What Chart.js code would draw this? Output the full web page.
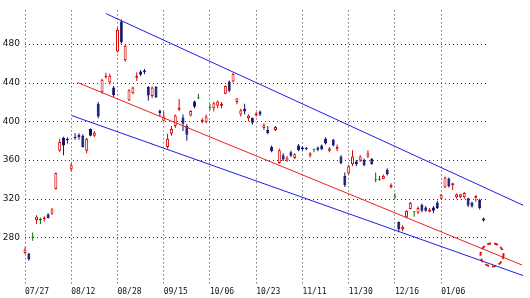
<!DOCTYPE html>
<html>
<head>
<meta charset="utf-8">
<script src="https://cdn.jsdelivr.net/npm/chart.js@4"></script>
<style>
  html, body { margin: 0; padding: 0; background: #fff; }
  #wrap { width: 530px; height: 298px; }
</style>
</head>
<body>
<div id="wrap"><canvas id="chart" width="530" height="298"></canvas></div>
<script>
// daily candles, one per trading day (index 0 = 07/27)
const opens  = [264, 263.5, 280, 298, 298, 298.5, 304, 304.5, 330, 369.5,
  383, 382, 350.5, 384, 386, 385, 369.5, 392, 385, 418,
  430, 445.5, 440, 435, 472, 503, 463, 421.5, 429, 445,
  451.5, 452.5, 435.5, 426, 435.5, 411, 400.5, 373.5, 387, 395,
  412, 404, 395, 406, 420.5, 423.5, 399.5, 399, 414, 413.5,
  416, 416, 428.5, 441, 441, 420, 407, 413, 403, 403.5,
  406, 410, 393, 391, 373.5, 391, 357, 365, 359.5, 368,
  362, 375, 373, 372.5, 364.5, 370, 373, 375, 382, 369.5,
  381, 371, 363.5, 343.5, 346, 355.5, 358.5, 359.5, 360, 363.5,
  361, 339.5, 339.5, 340.5, 350, 332, 322, 296, 288.5, 300.5,
  309.5, 306, 305.5, 313.5, 311, 306.5, 311, 316, 320, 331.5,
  341, 334, 321.5, 321.5, 321.5, 320.5, 316, 321, 319, 299.5];
const highs  = [270, 264, 285, 303, 300.5, 302, 305, 310.5, 347, 382,
  384, 383.5, 357, 387.5, 387.5, 386.5, 383, 392.5, 390, 420,
  444, 450, 449, 436.5, 496.5, 505, 479, 433, 436, 450.5,
  453, 454, 436.5, 436, 436.5, 412, 410, 387, 395, 407,
  423, 407, 397, 411.5, 421.5, 428.5, 403, 407, 418, 420,
  421.5, 420, 437, 442, 450, 424, 413, 418, 407, 404,
  409.5, 411, 398, 395, 375, 395, 372, 367, 364, 369.5,
  367, 376.5, 374, 373.5, 368, 372, 374, 376, 383.5, 373.5,
  382, 376, 365, 347, 355, 370, 360, 365, 361.5, 370,
  362, 347, 343.5, 345, 351.5, 336, 325.5, 296.5, 292.5, 308,
  316.5, 307, 312, 315, 312.5, 310.5, 312.5, 318, 325, 343,
  342, 336.5, 325.5, 325, 327, 321, 317, 323.5, 320, 300.5];
const lows   = [263, 256, 276.5, 294, 294, 296.5, 299.5, 303.5, 329.5, 368.5,
  365, 377, 348.5, 381, 381, 373, 367, 384.5, 383.5, 403,
  428.5, 444, 438, 425, 471, 480, 461.5, 421, 428, 441.5,
  446.5, 448.5, 421.5, 424, 424, 405, 400, 372, 385, 393,
  410.5, 390, 380, 405, 413.5, 423, 398, 398, 411.5, 410,
  413.5, 413.5, 428, 430, 440, 417.5, 405, 407, 400, 396.5,
  405, 405.5, 391, 386.5, 368, 390, 356, 359, 358, 363,
  361, 369, 369.5, 370, 362.5, 368, 369, 370, 376, 368,
  374, 369, 355.5, 332, 345, 353.5, 353.5, 358, 353.5, 362,
  355, 337, 338.5, 340, 344, 330.5, 319.5, 285.5, 286.5, 299.5,
  309, 301.5, 304, 306, 306.5, 306, 305, 309.5, 319.5, 331,
  331.5, 329, 320, 320.5, 320, 311.5, 311, 317, 309, 296.5];
const closes = [267.5, 257.5, 280, 301.5, 298, 300.5, 300, 309, 346.5, 378.5,
  375, 380.5, 354.5, 382.5, 383.5, 373.5, 382, 385, 388.5, 405,
  443, 447, 447, 427, 494.5, 481.5, 478, 432, 435, 447,
  448, 450.5, 426.5, 435, 425, 408.5, 405, 382, 392, 406,
  414, 397.5, 386, 410.5, 415, 423.5, 401.5, 405, 414, 418.5,
  420.5, 418, 436.5, 431.5, 449, 423.5, 411.5, 410, 406, 398.5,
  408, 407, 396, 388, 369, 394, 370, 360.5, 362.5, 364.5,
  366, 370, 371, 371, 367, 370, 370.5, 371, 377, 372,
  375, 373.5, 357, 334, 353.5, 363.5, 355.5, 363.5, 354.5, 367,
  355.5, 339.5, 339.5, 343.5, 345.5, 334.5, 322, 288.5, 291, 307.5,
  315.5, 306, 310.5, 307.5, 307.5, 309, 307.5, 310.5, 324, 342,
  333, 336, 324.5, 324.5, 326, 313, 312, 323, 310.5, 297.5];

// x axis labels sit on every 12th trading day
const xTickIdx = [0, 12, 24, 36, 48, 60, 72, 84, 96, 108];
const xLabels = ['07/27', '08/12', '08/28', '09/15', '10/06', '10/23', '11/11', '11/30', '12/16', '01/06'];
const yTicks = [280, 320, 360, 400, 440, 480];

// trend channel, [index, price] at both ends
const upperLine = [[21.0, 511.2], [129.3, 313.2]];
const midLine = [[13.7, 439.9], [129.0, 251.5]];
const lowerLine = [[12.2, 405.8], [129.3, 240.6]];
const ringMark = { x: 121.2, y: 262 };

const RED = '#d80000';
const NAVY = '#12126e';
const GREEN = '#0a6a0a';

function candleColor(i) {
    if (closes[i] > opens[i]) return RED;
    if (closes[i] < opens[i]) return NAVY;
    return GREEN;
}

const wickData = lows.map((l, i) => ({ x: i, y: [l, highs[i]] }));
const bodyData = opens.map((o, i) => ({ x: i, y: [o, closes[i]] }));
const colors = opens.map((o, i) => candleColor(i));
const fills = colors.map(c => c === RED ? '#ffffff' : c);

function lineSet(pts, color) {
    return {
        type: 'line',
        data: pts.map(p => ({ x: p[0], y: p[1] })),
        borderColor: color,
        borderWidth: 1,
        pointRadius: 0,
        fill: false,
        order: 1
    };
}

// dotted horizontal grid, only across the days that have candles
const hGrid = {
    id: 'hGrid',
    beforeDatasetsDraw(chart) {
        const { ctx, chartArea } = chart;
        const x = chart.scales.x, y = chart.scales.y;
        const right = x.getPixelForValue(opens.length - 0.3);
        ctx.save();
        ctx.strokeStyle = '#333';
        ctx.lineWidth = 1;
        ctx.setLineDash([1, 3]);
        yTicks.forEach(v => {
            const py = Math.round(y.getPixelForValue(v)) + 0.5;
            ctx.beginPath();
            ctx.moveTo(chartArea.left, py);
            ctx.lineTo(right, py);
            ctx.stroke();
        });
        ctx.restore();
    }
};

// dashed red ring at the channel bottom
const ring = {
    id: 'ring',
    afterDatasetsDraw(chart) {
        const { ctx } = chart;
        const x = chart.scales.x, y = chart.scales.y;
        ctx.save();
        ctx.strokeStyle = '#e01010';
        ctx.lineWidth = 2;
        ctx.setLineDash([4, 3]);
        ctx.beginPath();
        ctx.arc(x.getPixelForValue(ringMark.x), y.getPixelForValue(ringMark.y), 11.5, 0, Math.PI * 2);
        ctx.stroke();
        ctx.restore();
    }
};

new Chart(document.getElementById('chart').getContext('2d'), {
    type: 'bar',
    data: {
        datasets: [
            lineSet(upperLine, '#1e1ee6'),
            lineSet(midLine, '#f01e1e'),
            lineSet(lowerLine, '#1e1ee6'),
            {
                data: bodyData,
                backgroundColor: fills,
                borderColor: colors,
                borderWidth: 1,
                borderSkipped: false,
                barThickness: 3,
                minBarLength: 1,
                inflateAmount: 0,
                grouped: false,
                clip: false,
                order: 2
            },
            {
                data: wickData,
                backgroundColor: colors,
                borderWidth: 0,
                barThickness: 1,
                minBarLength: 1,
                inflateAmount: 0,
                grouped: false,
                clip: false,
                order: 3
            }
        ]
    },
    options: {
        responsive: false,
        animation: false,
        devicePixelRatio: 1,
        layout: { padding: { left: 0, right: 6, top: 0, bottom: 0 } },
        plugins: {
            legend: { display: false },
            tooltip: { enabled: false }
        },
        scales: {
            x: {
                type: 'linear',
                min: 0,
                max: 129.5,
                offset: false,
                grid: { color: '#333', drawTicks: false, offset: false },
                border: { display: false, dash: [1, 3] },
                afterBuildTicks: (scale) => { scale.ticks = xTickIdx.map(v => ({ value: v })); },
                afterFit: (scale) => { scale.height = 13; },
                ticks: {
                    align: 'start',
                    padding: 2,
                    maxRotation: 0,
                    autoSkip: false,
                    color: '#111',
                    font: { family: 'DejaVu Sans Mono', size: 8 },
                    callback: (v) => xLabels[xTickIdx.indexOf(v)]
                }
            },
            y: {
                min: 230.9,
                max: 514.5,
                beginAtZero: false,
                grid: { display: false, drawTicks: false },
                border: { display: false },
                afterBuildTicks: (scale) => { scale.ticks = yTicks.map(v => ({ value: v })); },
                afterFit: (scale) => { scale.width = 25; },
                ticks: {
                    padding: 5,
                    color: '#111',
                    font: { family: 'DejaVu Sans', size: 9 }
                }
            }
        }
    },
    plugins: [hGrid, ring]
});
</script>
</body>
</html>
